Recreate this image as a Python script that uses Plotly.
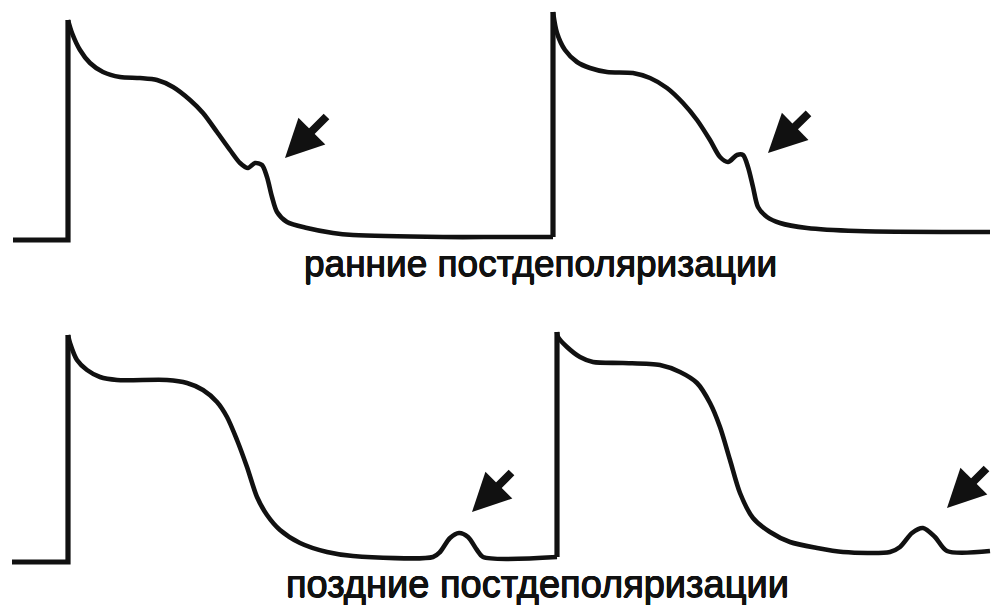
import plotly.graph_objects as go

# Membrane potential traces, drawn in a shared page-like coordinate frame
# (x: time, y: downward offset). Each action potential is a resting
# baseline + vertical upstroke (straight segments) followed by a smooth
# repolarisation phase.

# --- Early afterdepolarisations (top row) ---
rest1_t = [13, 68, 68]
rest1_v = [240, 240, 20]
ap1_t = [68, 72, 80, 90, 103, 120, 140, 157, 173, 190, 203, 217, 230, 240, 248,
         255, 262, 267, 272, 277, 287, 307, 333, 353, 443, 500, 553]
ap1_v = [20, 33, 50, 63, 72, 77, 78, 80, 87, 100, 113, 132, 150, 163, 168,
         163, 165, 177, 197, 212, 222, 228, 233, 235, 237, 237, 237]
rest2_t = [553, 553]
rest2_v = [237, 12]
ap2_t = [553, 557, 565, 577, 590, 607, 633, 650, 667, 683, 697, 710, 720, 728,
         737, 743, 748, 753, 758, 767, 780, 807, 857, 990]
ap2_v = [12, 33, 50, 62, 68, 72, 73, 78, 88, 103, 120, 140, 157, 162,
         155, 155, 167, 187, 207, 217, 223, 228, 231, 232]

# --- Delayed afterdepolarisations (bottom row) ---
rest3_t = [12, 68, 68]
rest3_v = [562, 562, 335]
ap3_t = [68, 70, 77, 87, 100, 117, 167, 187, 203, 217, 227, 237, 247, 257, 267,
         280, 300, 327, 353, 433, 440, 450, 459, 468, 477, 483, 557]
ap3_v = [335, 343, 360, 370, 377, 380, 380, 383, 390, 402, 417, 440, 467, 497, 515,
         530, 543, 552, 556, 557, 552, 538, 533, 537, 550, 557, 557]
rest4_t = [557, 557]
rest4_v = [557, 332]
ap4_t = [557, 558, 567, 580, 593, 623, 660, 680, 697, 710, 720, 730, 740, 753,
         770, 790, 817, 843, 890, 900, 912, 923, 935, 947, 990]
ap4_v = [332, 337, 347, 357, 362, 363, 365, 372, 383, 403, 427, 460, 493, 518,
         532, 542, 548, 552, 552, 547, 533, 528, 537, 551, 551]

# Arrows pointing at the afterdepolarisations: (tip x, tip y, tail x, tail y)
arrow_tip_x = [285, 768, 472, 947]
arrow_tip_y = [158, 153, 512, 508]
arrow_tail_x = [328, 810, 513, 988]
arrow_tail_y = [115, 112, 471, 467]

captions = ["ранние постдеполяризации", "поздние постдеполяризации"]
caption_x = [540, 537]
caption_y = [263, 584]
caption_size = [37, 38]

INK = "#111111"
LW = 4.6
HEAVY = "0.5px 0 0 #111111, -0.5px 0 0 #111111, 0 0.5px 0 #111111, 0 -0.5px 0 #111111"

fig = go.Figure()

straight = [(rest1_t, rest1_v), (rest2_t, rest2_v), (rest3_t, rest3_v), (rest4_t, rest4_v)]
curved = [(ap1_t, ap1_v), (ap2_t, ap2_v), (ap3_t, ap3_v), (ap4_t, ap4_v)]

for t, v in straight:
    fig.add_trace(go.Scatter(x=t, y=v, mode="lines",
                             line=dict(color=INK, width=LW + 0.6, shape="linear"),
                             hoverinfo="skip"))
for t, v in curved:
    fig.add_trace(go.Scatter(x=t, y=v, mode="lines",
                             line=dict(color=INK, width=LW, shape="spline", smoothing=0.8),
                             hoverinfo="skip"))

for hx, hy, tx, ty in zip(arrow_tip_x, arrow_tip_y, arrow_tail_x, arrow_tail_y):
    fig.add_annotation(x=hx, y=hy, ax=tx, ay=ty, xref="x", yref="y",
                       axref="x", ayref="y", text="", showarrow=True,
                       arrowhead=2, arrowsize=0.95, arrowwidth=8,
                       arrowcolor=INK, standoff=0)

for txt, cx, cy, sz in zip(captions, caption_x, caption_y, caption_size):
    fig.add_annotation(x=cx, y=cy, xref="x", yref="y", text=txt, showarrow=False,
                       xanchor="center", yanchor="middle",
                       font=dict(family="Liberation Sans, Arial, sans-serif",
                                 size=sz, color=INK, shadow=HEAVY))

fig.update_layout(
    width=992, height=605,
    margin=dict(l=0, r=0, t=0, b=0),
    paper_bgcolor="white", plot_bgcolor="white",
    showlegend=False,
    xaxis=dict(range=[0, 992], visible=False, fixedrange=True),
    yaxis=dict(range=[605, 0], visible=False, fixedrange=True),
)

fig.write_html("out.html")
